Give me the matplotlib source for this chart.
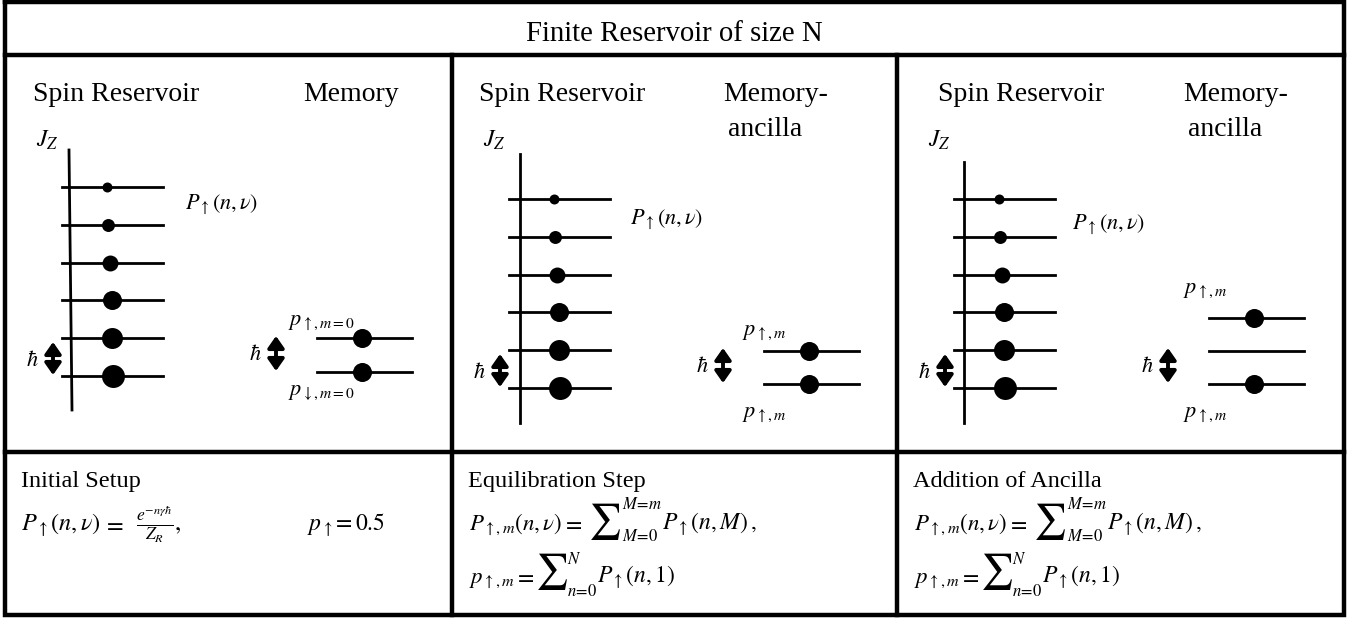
import numpy as np
import matplotlib
matplotlib.use("Agg")
import matplotlib.pyplot as plt

plt.rcParams['mathtext.fontset'] = 'stix'
plt.rcParams['font.family'] = ['Liberation Serif', 'DejaVu Serif']

# --- content ---
header = "Finite Reservoir of size N"
reservoir_titles = ["Spin Reservoir", "Spin Reservoir", "Spin Reservoir"]
memory_titles = [["Memory"], ["Memory-", "ancilla"], ["Memory-", "ancilla"]]
step_titles = ["Initial Setup", "Equilibration Step", "Addition of Ancilla"]

# level populations of the spin reservoir, lowest level first
reservoir_pop = [0.27, 0.225, 0.185, 0.13, 0.086, 0.051]
# memory / ancilla level populations, lowest level first
memory_pop = [[0.5, 0.5], [0.5, 0.5], [0.5, 0.0, 0.5]]
memory_top_labels = [r"$p_{\uparrow,m=0}$", r"$p_{\uparrow,m}$", r"$p_{\uparrow,m}$"]
memory_bot_labels = [r"$p_{\downarrow,m=0}$", r"$p_{\uparrow,m}$", r"$p_{\uparrow,m}$"]
reservoir_label = r"$P_{\uparrow}(n,\nu)$"

# --- layout (pixels) ---
W, H = 1359, 618
x_left, x_right, y_top, y_bot = 5, 1344, 2, 615
y_head, y_row = 55, 452
panel_x = [5, 452, 897]
border_lw = 3.2

res_bottom_y = [376, 388, 388]
res_step = 37.8
axis_top = [150, 154, 162]
axis_bottom = [410, 423, 423]
axis_x_top = [64, 68, 67]
axis_x_bot = [67, 68, 67]
mem_bottom_y = [372, 384, 384]
mem_step = [34, 33, 33]
mem_top_lab = [(283, 323), (290, 332), (286, 290)]
mem_bot_lab = [(283, 393), (290, 415), (286, 415)]
res_lab = [(180, 205), (178, 220), (175, 225)]
mem_title_x = [298, 271, 286]
res_title_x = [28, 27, 41]

res_scale = 44.2   # dot diameter (px) = scale * sqrt(pop)
mem_scale = 26.9

fig = plt.figure(figsize=(W / 100, H / 100), dpi=100)
ax = fig.add_axes([0, 0, 1, 1])
ax.set_xlim(0, W)
ax.set_ylim(H, 0)
ax.axis('off')

def px2pt(d):
    return d * 72 / 100

def darrow(x, y1, y2):
    ax.annotate('', xy=(x, y1), xytext=(x, y2),
                arrowprops=dict(arrowstyle='<|-|>,head_length=0.5,head_width=0.35',
                                lw=2.8, color='black', shrinkA=0, shrinkB=0,
                                mutation_scale=14))

# frame
ax.plot([x_left, x_right, x_right, x_left, x_left],
        [y_top, y_top, y_bot, y_bot, y_top], color='black', lw=border_lw,
        solid_joinstyle='miter')
ax.plot([x_left, x_right], [y_head, y_head], color='black', lw=border_lw)
ax.plot([x_left, x_right], [y_row, y_row], color='black', lw=border_lw)
for xs in panel_x[1:]:
    ax.plot([xs, xs], [y_head, y_bot], color='black', lw=border_lw)

ax.text((x_left + x_right) / 2, 41, header, ha='center', va='baseline', fontsize=20.7)

for i, x0 in enumerate(panel_x):
    ax.text(x0 + res_title_x[i], 101, reservoir_titles[i], fontsize=20, va='baseline')
    for k, line in enumerate(memory_titles[i]):
        ax.text(x0 + mem_title_x[i] + 5 * k, 101 + 35 * k, line, fontsize=20,
                va='baseline')

    # reservoir axis
    ax.plot([x0 + axis_x_top[i], x0 + axis_x_bot[i]], [axis_top[i], axis_bottom[i]],
            color='black', lw=2)
    ax.text(x0 + 42, 140, r"$J_Z$", fontsize=17, ha='center', va='center')
    ys = res_bottom_y[i] - res_step * np.arange(len(reservoir_pop))
    for y, p in zip(ys, reservoir_pop):
        ax.plot([x0 + 57, x0 + 158], [y, y], color='black', lw=2)
        d = res_scale * np.sqrt(p)
        ax.scatter([x0 + 97 + d / 2], [y], s=px2pt(d) ** 2, color='black', zorder=3,
                   linewidths=0)
    ax.text(x0 + res_lab[i][0], res_lab[i][1], reservoir_label, fontsize=16,
            va='center')
    darrow(x0 + 48, res_bottom_y[i] - 1, res_bottom_y[i] - 34)
    ax.text(x0 + 27, res_bottom_y[i] - 15, r"$\hbar$", fontsize=16, ha='center',
            va='center')

    # memory
    my = mem_bottom_y[i] - mem_step[i] * np.arange(len(memory_pop[i]))
    for y, p in zip(my, memory_pop[i]):
        ax.plot([x0 + 312, x0 + 407], [y, y], color='black', lw=2)
        if p > 0:
            d = mem_scale * np.sqrt(p)
            ax.scatter([x0 + 357], [y], s=px2pt(d) ** 2, color='black', zorder=3,
                       linewidths=0)
    darrow(x0 + 271, mem_bottom_y[i] - 1, mem_bottom_y[i] - 36)
    ax.text(x0 + 250, mem_bottom_y[i] - 17, r"$\hbar$", fontsize=16, ha='center',
            va='center')
    ax.text(x0 + mem_top_lab[i][0], mem_top_lab[i][1], memory_top_labels[i],
            fontsize=16, va='center')
    ax.text(x0 + mem_bot_lab[i][0], mem_bot_lab[i][1], memory_bot_labels[i],
            fontsize=16, va='center')

    # bottom row
    ax.text(x0 + 16, 487, step_titles[i], fontsize=17.5, va='baseline')

# initial setup formulas
x0 = panel_x[0]
ax.text(x0 + 16, 531, r"$P_{\uparrow}(n,\nu)$", fontsize=17.5, va='baseline')
ax.text(x0 + 98, 531, r"$=$", fontsize=17.5, va='baseline')
ax.text(x0 + 131, 531, r"$\frac{e^{-n\gamma\hbar}}{Z_R},$", fontsize=18, va='baseline')
ax.text(x0 + 302, 531, r"$p_{\uparrow}\!= 0.5$", fontsize=17, va='baseline')

# equilibration / ancilla formulas
for x0 in panel_x[1:]:
    ax.text(x0 + 17, 530, r"$P_{\uparrow,m}(n,\nu)$", fontsize=16.5, va='baseline')
    ax.text(x0 + 110, 530, r"$=$", fontsize=17, va='baseline')
    ax.text(x0 + 136, 521, r"$\sum$", fontsize=26, va='center')
    ax.text(x0 + 170, 505, r"$M\!=\!m$", fontsize=12, va='center')
    ax.text(x0 + 170, 537, r"$M\!=\!0$", fontsize=12, va='center')
    ax.text(x0 + 210, 530, r"$P_{\uparrow}(n,M)\,,$", fontsize=17, va='baseline')

    ax.text(x0 + 17, 583, r"$p_{\uparrow,m}$", fontsize=16.5, va='baseline')
    ax.text(x0 + 62, 583, r"$=$", fontsize=17, va='baseline')
    ax.text(x0 + 83, 571, r"$\sum$", fontsize=26, va='center')
    ax.text(x0 + 115, 560, r"$N$", fontsize=12, va='center')
    ax.text(x0 + 115, 592, r"$n\!=\!0$", fontsize=12, va='center')
    ax.text(x0 + 145, 583, r"$P_{\uparrow}(n,1)$", fontsize=17, va='baseline')

fig.savefig("out.png", dpi=100)
